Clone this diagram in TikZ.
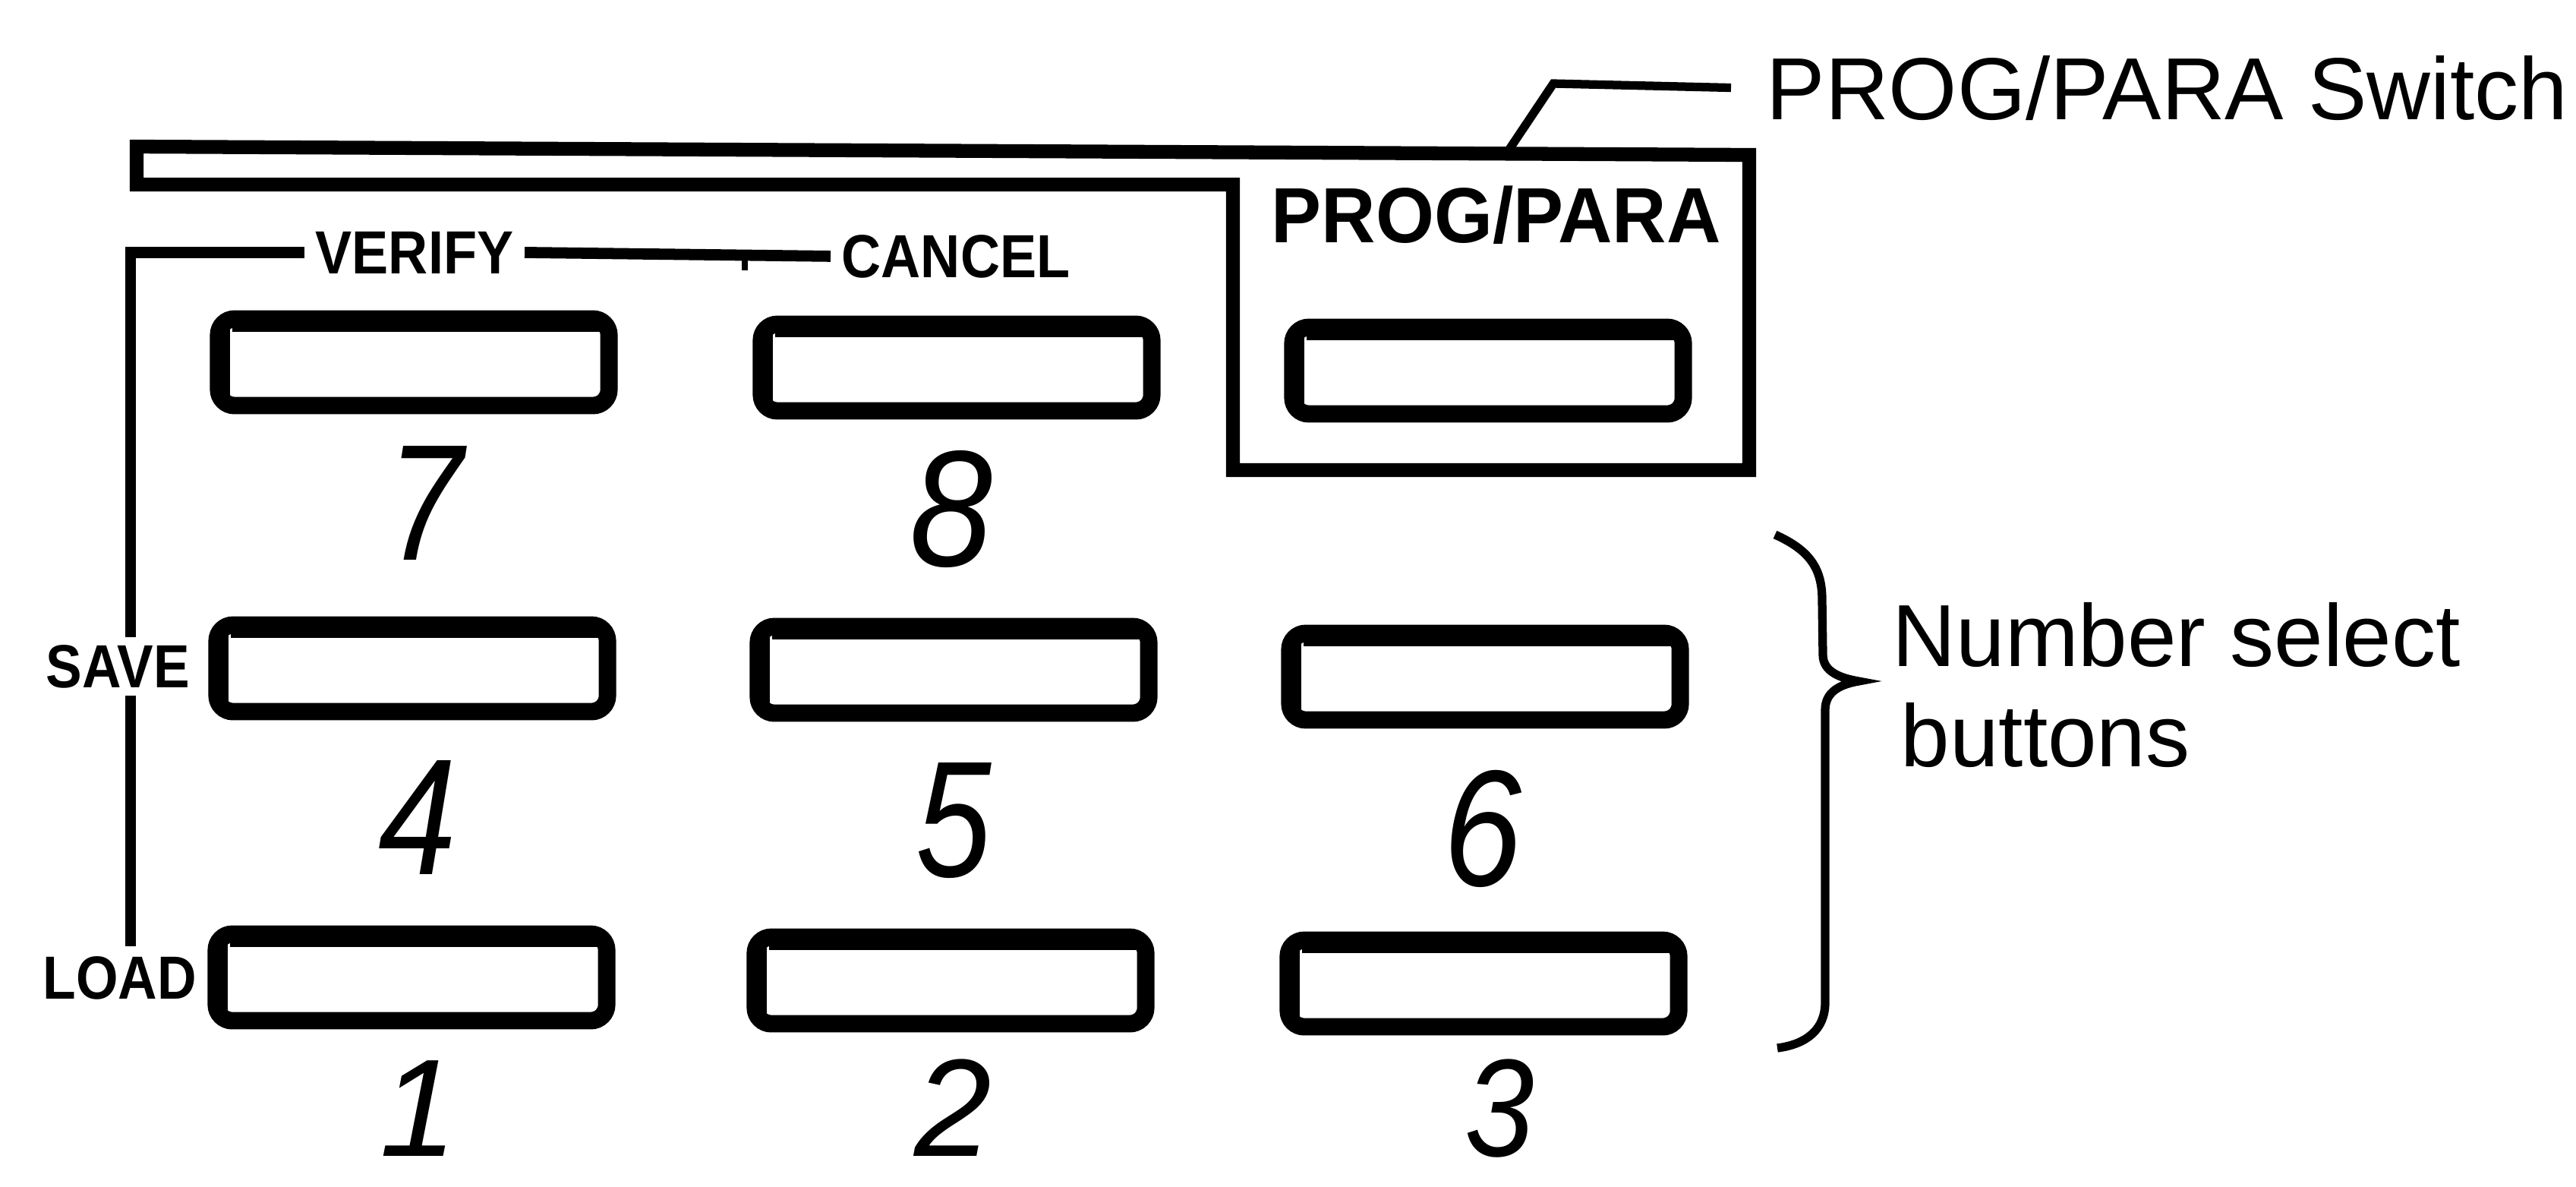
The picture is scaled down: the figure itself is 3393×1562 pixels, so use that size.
\documentclass[tikz,border=0pt]{standalone}
\usepackage{fontspec}
\setmainfont{Liberation Sans}
\usepackage{graphicx}
\begin{document}
\begin{tikzpicture}[x=0.01cm,y=-0.01cm,
  outl/.style={line width=5.2pt, line join=miter},
  btn/.style={draw, line width=6.5pt, rounded corners=6pt, inner sep=0,
              minimum width=5.14cm, minimum height=1.14cm},
  bevel/.style={line width=4.5pt, line cap=butt},
  leader/.style={line width=3.2pt},
  brk/.style={line width=4.2pt},
  brace/.style={line width=3.2pt},
  lbl/.style={font=\fontsize{33}{38}\selectfont, inner sep=0pt},
  keylbl/.style={font=\fontsize{22.8}{26}\selectfont\bfseries, inner ysep=0pt, inner xsep=0.14cm},
  proglbl/.style={font=\fontsize{29.3}{33}\selectfont\bfseries, inner sep=0pt},
  digit/.style={font=\fontsize{62}{64}\selectfont\itshape, inner sep=0pt},
  digitlow/.style={font=\fontsize{52}{54}\selectfont\itshape, inner sep=0pt, anchor=base},
]
\useasboundingbox (0,0) rectangle (3393,1562);

% panel outline: top bar and PROG/PARA box
\draw[outl] (180,193) -- (2304,204) -- (2304,619) -- (1624,619) -- (1624,243) -- (180,243) -- cycle;

% buttons
\foreach \n/\x/\y in {b7/545/477, b8/1260/484, bp/1960/488,
                      b4/543/880, b5/1256/882, b6/1956/891,
                      b1/542/1287, b2/1252/1291, b3/1954/1295}{
  \node[btn] (\n) at (\x,\y) {};
  \draw[bevel] ([shift={(30,21)}]\n.north west) -- ([shift={(-12,21)}]\n.north east);
  \draw[bevel] ([shift={(19,16)}]\n.north west) -- ([shift={(19,-12)}]\n.south west);
}

% labels
\node[proglbl, anchor=base west] (pp) at (1674,319) {\scalebox{0.96}[1]{PROG/PARA}};
\node[keylbl, anchor=base west] (vf) at (401,360) {\scalebox{0.9}[1]{VERIFY}};
\node[keylbl, anchor=base west] (cn) at (1094,365) {\scalebox{0.9}[1]{CANCEL}};
\node[keylbl, anchor=base west, inner xsep=0pt, inner ysep=0.09cm] (sv) at (60,905) {\scalebox{0.89}[1]{SAVE}};
\node[keylbl, anchor=base west, inner xsep=0pt, inner ysep=0.12cm] (ld) at (56,1315) {\scalebox{0.89}[1]{LOAD}};

% VERIFY / SAVE / LOAD bracket
\coordinate (vl) at (172,0);
\draw[brk] (sv.north -| vl) -- (vf.west -| vl) -- (vf.west);
\draw[brk] (sv.south -| vl) -- (ld.north -| vl);
\draw[brk] (vf.east) -- (cn.west);
\draw[line width=2pt] (981,340) -- (981,356);

% digits
\node[digit] (d7) at (560,662) {\scalebox{0.82}[1]{7}};
\node[digit] (d8) at (1253,670) {\scalebox{0.9}[1]{8}};
\node[digit] (d4) at (550,1076) {\scalebox{0.85}[1]{4}};
\node[digit] (d5) at (1256,1081) {\scalebox{0.82}[1]{5}};
\node[digit] (d6) at (1953,1091) {\scalebox{0.85}[1]{6}};
\node[digitlow] (d1) at (551,1522) {1};
\node[digitlow] (d2) at (1255,1522) {2};
\node[digitlow] (d3) at (1975,1522) {\scalebox{0.9}[1]{3}};

% PROG/PARA Switch callout
\node[lbl, anchor=base west, inner xsep=0.46cm] (sw) at (2280,157) {PROG/PARA Switch};
\coordinate (ldr) at (1983,204);
\coordinate (ldk) at (2046,110);
\draw[leader] (ldr) -- (ldk) -- (sw.west);

% Number select buttons
\node[lbl, anchor=base west] (nsel) at (2492,877) {Number select};
\node[lbl, anchor=base west] (nbut) at (2503,1009) {buttons};
\draw[brace] (2338,704) .. controls (2385,725) and (2400,750) .. (2400,790)
  -- (2401,862) .. controls (2401,885) and (2425,893) .. (2448,897)
  .. controls (2425,901) and (2404,910) .. (2404,935)
  -- (2404,1320) .. controls (2404,1355) and (2380,1375) .. (2341,1380);
\end{tikzpicture}
\end{document}
